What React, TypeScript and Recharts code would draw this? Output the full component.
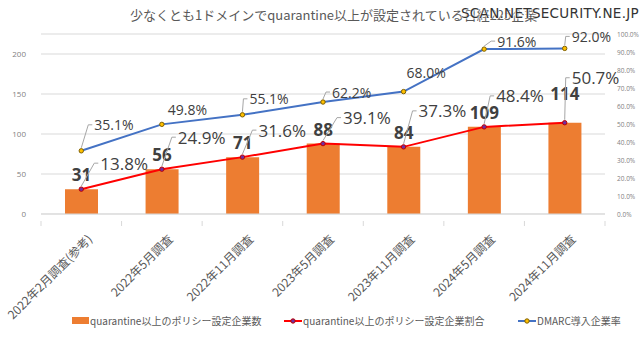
import React from 'react';
import { ComposedChart, Bar, Line, XAxis, YAxis, CartesianGrid, LabelList } from 'recharts';

const categories = [
  '2022年2月調査(参考)',
  '2022年5月調査',
  '2022年11月調査',
  '2023年5月調査',
  '2023年11月調査',
  '2024年5月調査',
  '2024年11月調査',
];
const policyCounts = [31, 56, 71, 88, 84, 109, 114];
const policyRates = [13.8, 24.9, 31.6, 39.1, 37.3, 48.4, 50.7];
const dmarcRates = [35.1, 49.8, 55.1, 62.2, 68.0, 91.6, 92.0];
const leftTicks = [0, 50, 100, 150, 200];
const rightTicks = [0, 10, 20, 30, 40, 50, 60, 70, 80, 90, 100];

const seriesNames = [
  'quarantine以上のポリシー設定企業数',
  'quarantine以上のポリシー設定企業割合',
  'DMARC導入企業率',
];
const titleText = '少なくとも1ドメインでquarantine以上が設定されている日経225企業';
const watermark = 'SCAN.NETSECURITY.NE.JP';

// label placement styling (offsets from the marker, in px)
const rateLabelOffsets: [number, number][] = [
  [19, -26], [16, -32], [16, -27], [20, -26], [15, -36], [12, -31], [7, -45],
];
const dmarcLabelOffsets: [number, number][] = [
  [13, -26], [6, -15], [7, -16], [9, -10], [3, -19], [13, -8], [7, -12],
];
const barLabelLift = [0, 0, 0, 0, 0, 0, 15];

const data = categories.map((c, i) => ({
  name: c,
  count: policyCounts[i],
  rate: policyRates[i],
  dmarc: dmarcRates[i],
}));

const JP = '"Noto Sans CJK JP", "Noto Sans", sans-serif';
const NUM = '"Open Sans", "Noto Sans", sans-serif';
const AXIS = '#595959';
const GRID = '#d9d9d9';

const W = 640;
const H = 340;
const LEFT = 41;
const RIGHT_W = 35;
const BAND = (W - LEFT - RIGHT_W) / categories.length;

const XTick = (props: any) => {
  const { x, y, payload, index } = props;
  return (
    <g transform={`translate(${x},${y})`}>
      <line x1={-BAND / 2} y1={-1} x2={-BAND / 2} y2={4} stroke={GRID} />
      {index === categories.length - 1 && (
        <line x1={BAND / 2} y1={-1} x2={BAND / 2} y2={4} stroke={GRID} />
      )}
      <text
        transform="translate(8,14) rotate(-45)"
        textAnchor="end"
        fontSize={12}
        fontFamily={JP}
        fill={AXIS}
        dominantBaseline="central"
      >
        {payload.value}
      </text>
    </g>
  );
};

const RightTick = (props: any) => {
  const { x, y, payload } = props;
  return (
    <text x={x - 1} y={y} dy={3} fontSize={6.5} fill="#7f7f7f" fontFamily={NUM} textAnchor="start">
      {`${Number(payload.value).toFixed(1)}%`}
    </text>
  );
};

const LeftTick = (props: any) => {
  const { x, y, payload } = props;
  return (
    <text x={x} y={y} dy={3} fontSize={8} fill="#7f7f7f" fontFamily={NUM} textAnchor="end">
      {payload.value}
    </text>
  );
};

const BarLabel = (props: any) => {
  const { x, y, width, value, index } = props;
  return (
    <text
      x={x + width / 2}
      y={y - 8 - (barLabelLift[index] || 0)}
      textAnchor="middle"
      fontSize={17}
      fontWeight="bold"
      fontFamily={NUM}
      fill="#404040"
    >
      {value}
    </text>
  );
};

const makePctLabel = (fontSize: number, offsets: [number, number][]) => (props: any) => {
  const { x, y, value, index } = props;
  const [dx, dy] = offsets[index] || [10, -20];
  const lx = x + dx;
  const ly = y + dy;
  const cornerX = lx - 6;
  const showLeader = cornerX > x;
  return (
    <g>
      {showLeader && (
        <polyline
          points={`${x},${y - 3} ${cornerX},${ly} ${lx - 2},${ly}`}
          fill="none"
          stroke="#a6a6a6"
          strokeWidth={1}
        />
      )}
      <text
        x={lx}
        y={ly}
        fontSize={fontSize}
        fontFamily={NUM}
        fill="#404040"
        dominantBaseline="central"
      >
        {`${Number(value).toFixed(1)}%`}
      </text>
    </g>
  );
};

const RateLabel = makePctLabel(17, rateLabelOffsets);
const DmarcLabel = makePctLabel(14, dmarcLabelOffsets);

const Legend = () => (
  <div
    style={{
      position: 'absolute',
      left: 0,
      top: 314,
      width: W,
      height: 16,
      fontFamily: JP,
      fontSize: 10,
      color: AXIS,
    }}
  >
    <div style={{ position: 'absolute', left: 72, top: 3, width: 17, height: 7, background: '#ED7D31' }} />
    <div style={{ position: 'absolute', left: 90, top: -1, whiteSpace: 'nowrap' }}>{seriesNames[0]}</div>
    <svg style={{ position: 'absolute', left: 284, top: 2 }} width={18} height={10}>
      <line x1={0} y1={5} x2={18} y2={5} stroke="#FF0000" strokeWidth={2} />
      <circle cx={9} cy={5} r={2.2} fill="#7030A0" stroke="#C00000" />
    </svg>
    <div style={{ position: 'absolute', left: 303, top: -1, whiteSpace: 'nowrap' }}>{seriesNames[1]}</div>
    <svg style={{ position: 'absolute', left: 518, top: 2 }} width={18} height={10}>
      <line x1={0} y1={5} x2={18} y2={5} stroke="#4472C4" strokeWidth={2} />
      <circle cx={9} cy={5} r={2.2} fill="#FFC000" stroke="#7f6000" />
    </svg>
    <div style={{ position: 'absolute', left: 537, top: -1, whiteSpace: 'nowrap' }}>{seriesNames[2]}</div>
  </div>
);

export default function App() {
  return (
    <div style={{ position: 'absolute', left: 0, top: 0, width: W, height: H, background: '#fff' }}>
      <div
        style={{
          position: 'absolute',
          left: 130,
          top: 5,
          fontFamily: JP,
          fontSize: 13,
          color: AXIS,
          whiteSpace: 'nowrap',
        }}
      >
        {titleText}
      </div>
      <div
        style={{
          position: 'absolute',
          left: 461,
          top: 5,
          fontFamily: '"DejaVu Sans", sans-serif',
          fontSize: 13.5,
          letterSpacing: 0.3,
          color: '#333',
          whiteSpace: 'nowrap',
          textShadow: '0 0 2px #fff, 0 0 2px #fff, 0 0 2px #fff',
        }}
      >
        {watermark}
      </div>
      <ComposedChart
        width={W}
        height={H}
        data={data}
        margin={{ top: 34, right: 0, bottom: 0, left: 0 }}
        style={{ position: 'absolute', left: 0, top: 0 }}
      >
        <CartesianGrid vertical={false} stroke={GRID} yAxisId="left" />
        <XAxis
          dataKey="name"
          height={126}
          tick={<XTick />}
          tickLine={false}
          axisLine={{ stroke: GRID }}
          interval={0}
        />
        <YAxis
          yAxisId="left"
          width={LEFT}
          domain={[0, 225]}
          ticks={leftTicks}
          tick={<LeftTick />}
          tickLine={false}
          axisLine={false}
          tickMargin={9}
          interval={0}
          allowDataOverflow
        />
        <YAxis
          yAxisId="right"
          orientation="right"
          width={RIGHT_W}
          domain={[0, 100]}
          ticks={rightTicks}
          tick={<RightTick />}
          tickLine={false}
          axisLine={false}
          tickMargin={7}
          interval={0}
        />
        <Bar yAxisId="left" dataKey="count" fill="#ED7D31" barSize={33} isAnimationActive={false}>
          <LabelList dataKey="count" content={<BarLabel />} />
        </Bar>
        <Line
          yAxisId="right"
          dataKey="rate"
          stroke="#FF0000"
          strokeWidth={2}
          dot={{ r: 2.2, fill: '#7030A0', stroke: '#C00000', strokeWidth: 1 }}
          isAnimationActive={false}
        >
          <LabelList dataKey="rate" content={<RateLabel />} />
        </Line>
        <Line
          yAxisId="right"
          dataKey="dmarc"
          stroke="#4472C4"
          strokeWidth={2}
          dot={{ r: 2.2, fill: '#FFC000', stroke: '#7f6000', strokeWidth: 1 }}
          isAnimationActive={false}
        >
          <LabelList dataKey="dmarc" content={<DmarcLabel />} />
        </Line>
      </ComposedChart>
      <Legend />
    </div>
  );
}
